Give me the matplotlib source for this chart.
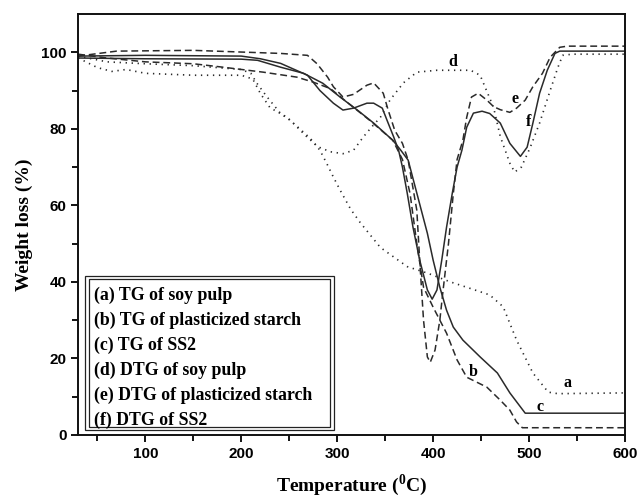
import matplotlib
matplotlib.use('Agg')
import matplotlib.pyplot as plt
from matplotlib.patches import Rectangle

plt.rcParams['mathtext.fontset'] = 'custom'
plt.rcParams['mathtext.rm'] = 'Liberation Serif:bold'
plt.rcParams['mathtext.bf'] = 'Liberation Serif:bold'

# (a) TG of soy pulp
a_T = [30, 60, 100, 150, 200, 210, 216, 227, 241, 251, 261, 272, 282, 289, 296, 303, 314, 324,
       345, 373, 394, 418, 435, 459, 473, 487, 504, 520, 530, 600]
a_W = [99, 97.5, 97, 96.5, 95.5, 94.5, 92, 88.3, 84, 82.2, 80, 77.5, 74.4, 71, 67.4, 64, 59, 55.5,
       49, 44, 42.3, 40, 38.6, 36.6, 33.5, 24.8, 16.2, 11.2, 10.8, 11]
# (b) TG of plasticized starch
b_T = [30, 60, 100, 150, 181, 223, 258, 275, 293, 310, 334, 358, 368, 376, 383, 390, 400, 414,
       425, 435, 456, 470, 480, 487, 493, 600]
b_W = [99.5, 98.5, 97.5, 97, 96.1, 94.8, 93.5, 92.2, 90.5, 87, 82.2, 77, 72, 63, 50, 38.6, 33.4, 26.6,
       19.6, 15.1, 12.5, 9.1, 6.5, 3.4, 1.9, 1.9]
# (c) TG of SS2
c_T = [30, 100, 200, 217, 241, 265, 285, 303, 321, 338, 358, 366, 374, 383, 394, 400, 407, 414,
       421, 431, 449, 467, 480, 496, 600]
c_W = [98.5, 98.3, 98.2, 97.9, 96.1, 94.5, 91.9, 88.3, 84.9, 81.5, 77, 74.5, 71.8, 63.2, 52.7, 45.7, 38.6, 32.6,
       28.2, 24.8, 20.4, 16.2, 11, 5.7, 5.7]
# (d) DTG of soy pulp
d_T = [30, 50, 65, 80, 100, 150, 200, 212, 220, 230, 248, 268, 280, 293, 306, 317, 327, 336, 345,
       355, 369, 383, 404, 439, 449, 454, 463, 470, 480, 485, 492, 501, 511, 522, 530, 535, 545, 600]
d_W = [98.5, 96, 95, 95.5, 94.5, 94, 94, 93, 89.2, 85.5, 83, 78, 75.3, 74, 73.5, 74.4, 77.8, 80.5, 83,
       87.5, 92, 94.8, 95.3, 95.3, 94, 91, 85.6, 78, 71, 68.7, 70, 75, 81.5, 90, 96, 99.2, 99.5, 99.5]
# (e) DTG of plasticized starch
e_T = [30, 70, 150, 241, 269, 279, 290, 296, 306, 317, 331, 338, 348, 353, 360, 368, 374, 383, 386,
       390, 394, 397, 402, 407, 410, 416, 421, 425, 431, 435, 440, 447, 456, 463, 470, 480, 487, 496,
       504, 514, 522, 532, 540, 600]
e_W = [99, 100.3, 100.5, 99.7, 99.2, 97, 93.5, 91, 88.3, 89, 91.4, 92, 89.3, 85, 79.6, 76.2, 71.8, 58.7, 45.7,
       30, 20.4, 19, 22.2, 30, 37, 50, 63, 72, 77, 83, 88.3, 89.3, 87.5, 85.8, 85, 84.3, 85.4, 87.5,
       91, 94.5, 98.7, 101.3, 101.6, 101.6]
# (f) DTG of SS2
f_T = [30, 100, 200, 220, 241, 269, 282, 296, 306, 317, 331, 338, 347, 352, 359, 364, 368, 373, 379,
       386, 394, 399, 404, 409, 414, 420, 425, 430, 435, 442, 451, 459, 470, 480, 491, 498, 504, 511,
       519, 527, 532, 600]
f_W = [99, 99.2, 99, 98.3, 97.1, 94, 90, 86.7, 84.9, 85.4, 86.7, 86.7, 85.4, 82.2, 77.8, 74.4, 70, 63.2, 54.3,
       45.7, 37.9, 35.5, 37.9, 45.7, 54.3, 63.2, 70, 74.4, 80.4, 84.1, 84.6, 84, 81.5, 76.2, 72.8, 75.2, 81.5, 89.3,
       95.3, 99.7, 100.3, 100.3]

legend_lines = ['(a) TG of soy pulp', '(b) TG of plasticized starch', '(c) TG of SS2',
                '(d) DTG of soy pulp', '(e) DTG of plasticized starch', '(f) DTG of SS2']

serif = 'Liberation Serif'
sans = 'Liberation Sans'
ink = '#2a2a2a'

fig = plt.figure(figsize=(6.41, 5), dpi=100)
ax = fig.add_axes([0.122, 0.13, 0.853, 0.842])

dashed = dict(color=ink, lw=1.1, linestyle=(0, (4.5, 2.5)))
dotted = dict(color=ink, lw=1.2, linestyle=(0, (0.8, 2.8)))
solid = dict(color=ink, lw=1.1)

ax.plot(a_T, a_W, **dotted)
ax.plot(b_T, b_W, **dashed)
ax.plot(c_T, c_W, **solid)
ax.plot(d_T, d_W, **dotted)
ax.plot(e_T, e_W, **dashed)
ax.plot(f_T, f_W, **solid)

# curve labels
lab = dict(fontfamily=serif, fontweight='bold', fontsize=11.5, ha='center', va='center')
ax.text(421, 97.5, 'd', **lab)
ax.text(485, 87.7, 'e', **lab)
ax.text(499, 81.7, 'f', **lab)
ax.text(540, 13.6, 'a', **lab)
ax.text(442, 16.5, 'b', **lab)
ax.text(511, 7.3, 'c', **lab)

ax.set_xlim(30, 600)
ax.set_ylim(0, 110)
ax.set_xticks([100, 200, 300, 400, 500, 600])
ax.set_xticks([50, 150, 250, 350, 450, 550], minor=True)
ax.set_yticks([0, 20, 40, 60, 80, 100])
ax.set_yticks([10, 30, 50, 70, 90], minor=True)
ax.tick_params(which='both', direction='out', width=1.3, top=False, right=False)
ax.tick_params(which='major', length=5, labelsize=11)
ax.tick_params(which='minor', length=4)
for lbl in ax.get_xticklabels() + ax.get_yticklabels():
    lbl.set_fontfamily(sans)
    lbl.set_fontweight('bold')
for sp in ax.spines.values():
    sp.set_linewidth(1.4)
    sp.set_color('#111111')

ax.set_xlabel(r'Temperature ($^{\mathbf{0}}$C)', fontfamily=serif, fontweight='bold',
              fontsize=14, labelpad=8)
ax.set_ylabel('Weight loss (%)', fontfamily=serif, fontweight='bold', fontsize=14, labelpad=6)

# legend box with double border
ax.add_patch(Rectangle((0.013, 0.013), 0.454, 0.365, transform=ax.transAxes,
                       fill=False, lw=0.9, ec='#222222'))
ax.add_patch(Rectangle((0.019, 0.020), 0.442, 0.351, transform=ax.transAxes,
                       fill=False, lw=0.9, ec='#222222'))
y0 = 36.6
for i, s in enumerate(legend_lines):
    ax.text(46, y0 - i * 6.54, s, fontfamily=serif, fontweight='bold', fontsize=12.8,
            ha='left', va='center')

fig.savefig('out.png', dpi=100)
